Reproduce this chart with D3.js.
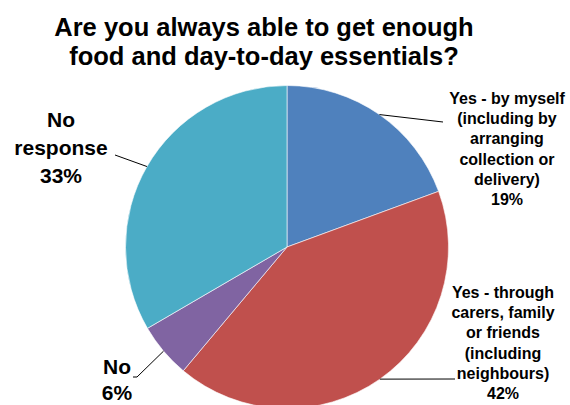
<!DOCTYPE html>
<html>
<head>
<meta charset="utf-8">
<script src="https://cdn.jsdelivr.net/npm/d3@7"></script>
<style>
  html, body { margin: 0; padding: 0; background: #fff; }
  svg { display: block; }
  text { font-family: "Liberation Sans", Arial, sans-serif; font-weight: bold; fill: #000; }
</style>
</head>
<body>
<svg id="chart" width="570" height="405"></svg>
<script>
// ---- data ----
const categories = [
  ["Yes - by myself", "(including by", "arranging", "collection or", "delivery)"],
  ["Yes - through", "carers, family", "or friends", "(including", "neighbours)"],
  ["No"],
  ["No", "response"]
];
const values = [19.4, 41.7, 5.5, 33.4];
const colors = ["#4F81BD", "#C0504D", "#8064A2", "#4BACC6"];
const titleLines = ["Are you always able to get enough", "food and day-to-day essentials?"];

// ---- layout ----
const W = 570, H = 405;
const cx = 287, cy = 247, R = 161.5;
const labelLayout = [
  { x: 507, y: 104, dy: 20.2, size: 16, knee: null, end: [443, 122] },
  { x: 503, y: 298, dy: 20.2, size: 16, knee: null, end: [455, 379] },
  { x: 117, y: 374, dy: 26, size: 21, knee: [137, 377], end: [133, 377] },
  { x: 61,  y: 127, dy: 28, size: 21, knee: null, end: [115, 155] }
];

const svg = d3.select("#chart");

// title
svg.append("text")
  .attr("text-anchor", "middle")
  .style("font-size", "25.5px")
  .selectAll("tspan").data(titleLines).join("tspan")
  .attr("x", 264)
  .attr("y", (d, i) => 36 + i * 29)
  .text(d => d);

const pie = d3.pie().sort(null).value(d => d).startAngle(0).endAngle(2 * Math.PI);
const arcs = pie(values);
const arc = d3.arc().innerRadius(0).outerRadius(R);
const edge = d3.arc().innerRadius(R).outerRadius(R);

const g = svg.append("g").attr("transform", `translate(${cx},${cy})`);
g.selectAll("path.slice").data(arcs).join("path")
  .attr("class", "slice")
  .attr("d", arc)
  .attr("fill", (d, i) => colors[i])
  .attr("stroke", "#fff")
  .attr("stroke-width", 0.6);

// leader lines
arcs.forEach((d, i) => {
  const [px, py] = edge.centroid(d);
  const L = labelLayout[i];
  const pts = [[cx + px, cy + py]];
  if (L.knee) pts.push(L.knee);
  pts.push(L.end);
  svg.append("path")
    .attr("d", d3.line()(pts))
    .attr("fill", "none")
    .attr("stroke", "#000")
    .attr("stroke-width", 1);
});

// labels
const pct = d3.format(".0f");
arcs.forEach((d, i) => {
  const L = labelLayout[i];
  const lines = categories[i].concat([pct(values[i]) + "%"]);
  svg.append("text")
    .attr("text-anchor", "middle")
    .style("font-size", L.size + "px")
    .selectAll("tspan").data(lines).join("tspan")
    .attr("x", L.x)
    .attr("y", (t, j) => L.y + j * L.dy)
    .text(t => t);
});
</script>
</body>
</html>
